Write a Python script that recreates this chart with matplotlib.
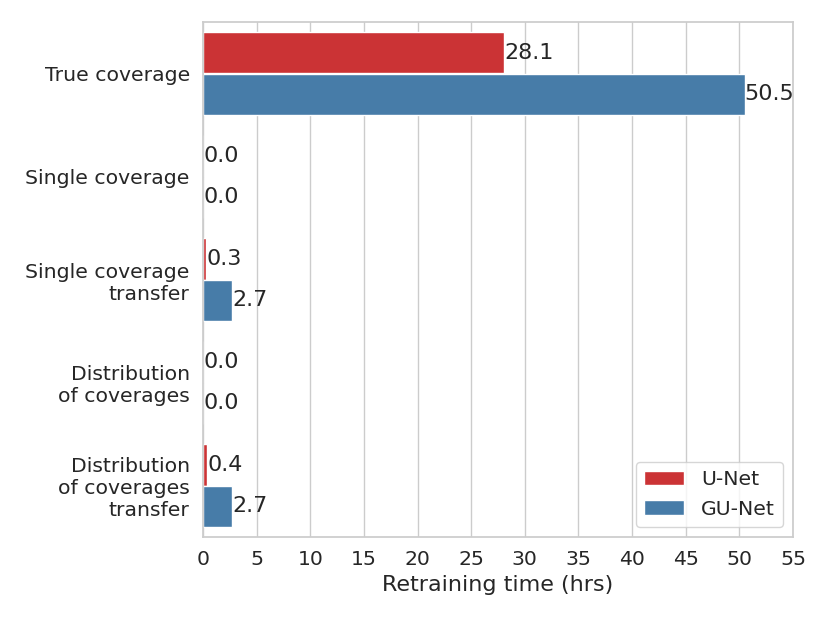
import matplotlib
matplotlib.use("Agg")
import matplotlib.pyplot as plt
import seaborn as sns
import pandas as pd

categories = ["True coverage", "Single coverage", "Single coverage\ntransfer",
              "Distribution\nof coverages", "Distribution\nof coverages\ntransfer"]
models = ["U-Net", "GU-Net"]
unet = [28.1, 0.0, 0.3, 0.0, 0.4]
gunet = [50.5, 0.0, 2.7, 0.0, 2.7]
xticks = list(range(0, 56, 5))

rows = []
for c, u, g in zip(categories, unet, gunet):
    rows.append({"method": c, "model": "U-Net", "time": u})
    rows.append({"method": c, "model": "GU-Net", "time": g})
df = pd.DataFrame(rows)

sns.set_theme(style="whitegrid", font_scale=4/3)
plt.rcParams['font.family'] = ['DejaVu Sans']

fig = plt.figure(figsize=(8.3, 6.23), dpi=100)
ax = fig.add_axes([203/830, 1-537/623, 590/830, 515/623])
sns.barplot(data=df, y="method", x="time", hue="model", hue_order=models,
            palette="Set1", orient="h", ax=ax)
for cont in ax.containers:
    ax.bar_label(cont, fmt="%.1f", padding=0, color="#262626")
ax.set_xlim(0, 55)
ax.set_xticks(xticks)
ax.set_ylabel("")
ax.set_xlabel("Retraining time (hrs)")
ax.legend(loc="lower right")
fig.savefig("out.png", dpi=100)
